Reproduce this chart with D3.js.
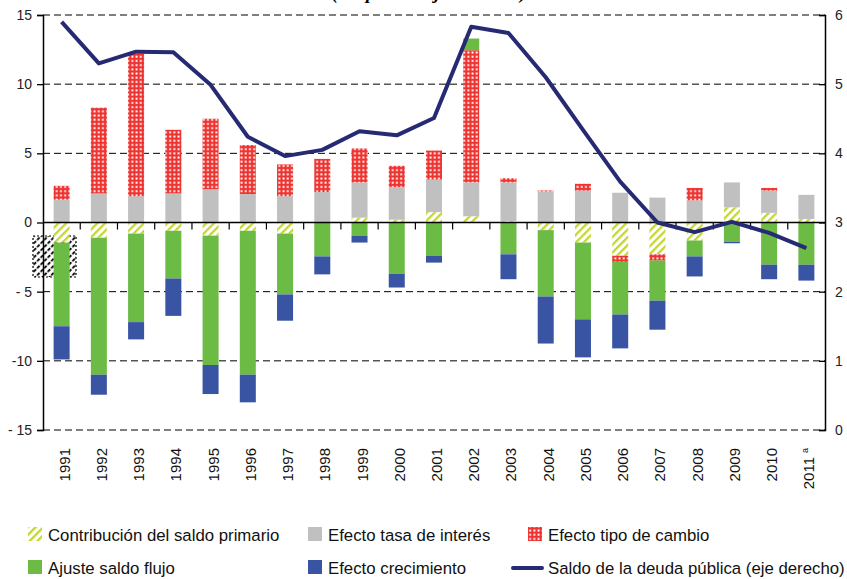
<!DOCTYPE html>
<html>
<head>
<meta charset="utf-8">
<script src="https://cdn.jsdelivr.net/npm/d3@7"></script>
<style>
  body { margin: 0; background: #fff; }
  svg { display: block; font-family: "Liberation Sans", Arial, sans-serif; }
</style>
</head>
<body>
<svg id="chart" width="847" height="579"></svg>
<script>
var width = 847;
var height = 579;

// ---------------------------------------------------------------------------
// data
// ---------------------------------------------------------------------------
var years = ["1991","1992","1993","1994","1995","1996","1997","1998","1999","2000",
             "2001","2002","2003","2004","2005","2006","2007","2008","2009","2010","2011"];

var primario    = [-1.45,-1.1,-0.8,-0.6,-0.95,-0.6,-0.8,0,0.35,0.2,0.75,0.45,0.1,-0.55,-1.45,-2.4,-2.3,-1.3,1.1,0.7,0.25];
var interes     = [1.65,2.1,1.9,2.1,2.4,2.05,1.9,2.2,2.55,2.35,2.35,2.45,2.8,2.25,2.3,2.15,1.8,1.6,1.8,1.6,1.75];
var cambio      = [1.0,6.2,10.3,4.6,5.1,3.55,2.3,2.4,2.45,1.55,2.1,9.55,0.3,0.07,0.5,-0.45,-0.45,0.9,0,0.2,0];
var flujo       = [-6.05,-9.9,-6.4,-3.45,-9.35,-10.4,-4.4,-2.45,-0.95,-3.7,-2.4,0.85,-2.3,-4.8,-5.55,-3.8,-2.9,-1.15,-1.4,-3.05,-3.05];
var crecimiento = [-2.4,-1.45,-1.25,-2.7,-2.1,-2.0,-1.9,-1.3,-0.5,-1.0,-0.5,0,-1.8,-3.4,-2.75,-2.45,-2.1,-1.45,-0.1,-1.05,-1.15];
var deuda       = [5.90,5.30,5.47,5.46,4.99,4.24,3.96,4.05,4.32,4.26,4.51,5.83,5.74,5.10,4.34,3.59,3.0,2.86,3.01,2.85,2.63];

var leftTicks  = [15,10,5,0,-5,-10,-15];
var rightTicks = [0,1,2,3,4,5,6];

var series = [
    {key: "primario",    label: "Contribución del saldo primario", values: primario,    fill: "url(#hatch)"},
    {key: "interes",     label: "Efecto tasa de interés",          values: interes,     fill: "#c0c0c0"},
    {key: "cambio",      label: "Efecto tipo de cambio",           values: cambio,      fill: "url(#dots)"},
    {key: "flujo",       label: "Ajuste saldo flujo",              values: flujo,       fill: "#6cbb45"},
    {key: "crecimiento", label: "Efecto crecimiento",              values: crecimiento, fill: "#3a54a4"}
];

// ---------------------------------------------------------------------------
// scales
// ---------------------------------------------------------------------------
var plotLeft = 43, plotRight = 825, plotTop = 15, plotBottom = 430;

var x = d3.scaleBand()
    .domain(years)
    .range([plotLeft, plotRight])
    .paddingInner(0.57)
    .paddingOuter(0.285);

var y = d3.scaleLinear().domain([-15, 15]).range([plotBottom, plotTop]);
var y2 = d3.scaleLinear().domain([0, 6]).range([plotBottom, plotTop]);

var svg = d3.select("#chart");

// patterns
var defs = svg.append("defs");
var hatch = defs.append("pattern")
    .attr("id", "hatch")
    .attr("patternUnits", "userSpaceOnUse")
    .attr("width", 5.5).attr("height", 5.5)
    .attr("patternTransform", "rotate(45)");
hatch.append("rect").attr("width", 5.5).attr("height", 5.5).attr("fill", "#fff");
hatch.append("rect").attr("width", 2.3).attr("height", 5.5).attr("fill", "#c5d630");

var dots = defs.append("pattern")
    .attr("id", "dots")
    .attr("patternUnits", "userSpaceOnUse")
    .attr("width", 4.2).attr("height", 4.2);
dots.append("rect").attr("width", 4.2).attr("height", 4.2).attr("fill", "#ee3431");
dots.append("rect").attr("x", 1.2).attr("y", 1.2).attr("width", 1.9).attr("height", 1.9).attr("fill", "#fff");

var blackHatch = defs.append("pattern")
    .attr("id", "blackHatch")
    .attr("patternUnits", "userSpaceOnUse")
    .attr("width", 5).attr("height", 5)
    .attr("patternTransform", "rotate(45)");
blackHatch.append("rect").attr("width", 5).attr("height", 5).attr("fill", "#fff");
blackHatch.append("rect").attr("width", 1.8).attr("height", 3.5).attr("fill", "#000");

// title, clipped by the top of the picture
svg.append("text")
    .attr("x", 429).attr("y", -1.5)
    .attr("text-anchor", "middle")
    .style("font-family", "'Liberation Serif', 'Times New Roman', serif")
    .style("font-weight", "bold").style("font-style", "italic")
    .style("font-size", "19px")
    .text("(En porcentajes del PIB)");

// gridlines
svg.append("g").selectAll("line")
    .data(leftTicks.filter(function(d) { return d !== 0; }))
    .enter().append("line")
    .attr("x1", plotLeft).attr("x2", plotRight)
    .attr("y1", function(d) { return y(d); }).attr("y2", function(d) { return y(d); })
    .attr("stroke", "#000").attr("stroke-width", 1)
    .attr("stroke-dasharray", "7,4");

// stray hatched box near 1991
svg.append("rect")
    .attr("x", 33).attr("y", 236).attr("width", 43).attr("height", 41)
    .attr("fill", "url(#blackHatch)")
    .attr("stroke", "#000").attr("stroke-width", 1.2).attr("stroke-dasharray", "2,2");

// stacked bars
var rows = years.map(function(yr, i) {
    var r = {year: yr};
    series.forEach(function(s) { r[s.key] = s.values[i]; });
    return r;
});
var stack = d3.stack()
    .keys(series.map(function(s) { return s.key; }))
    .offset(d3.stackOffsetDiverging);
var stacked = stack(rows);

svg.append("g").selectAll("g")
    .data(stacked)
    .enter().append("g")
    .attr("fill", function(d, i) { return series[i].fill; })
    .selectAll("rect")
    .data(function(d) { return d; })
    .enter().append("rect")
    .attr("x", function(d) { return x(d.data.year); })
    .attr("width", x.bandwidth())
    .attr("y", function(d) { return y(Math.max(d[0], d[1])); })
    .attr("height", function(d) { return Math.abs(y(d[0]) - y(d[1])); });

// zero line and category ticks
svg.append("line")
    .attr("x1", plotLeft).attr("x2", plotRight)
    .attr("y1", y(0)).attr("y2", y(0))
    .attr("stroke", "#000").attr("stroke-width", 1.3);

svg.append("g").selectAll("line")
    .data(years.slice(0, -1))
    .enter().append("line")
    .attr("x1", function(d) { return x(d) + x.bandwidth() / 2 + x.step() / 2; })
    .attr("x2", function(d) { return x(d) + x.bandwidth() / 2 + x.step() / 2; })
    .attr("y1", y(0)).attr("y2", y(0) + 7)
    .attr("stroke", "#000").attr("stroke-width", 1.2);

// axes
var leftAxis = d3.axisLeft(y)
    .tickValues(leftTicks)
    .tickSize(6).tickPadding(5)
    .tickFormat(function(d) { return d < 0 ? (d === -10 ? "-10" : "- " + Math.abs(d)) : d; });
var gl = svg.append("g").attr("transform", "translate(" + plotLeft + ",0)").call(leftAxis);

var rightAxis = d3.axisRight(y2)
    .tickValues(rightTicks)
    .tickSize(-6).tickPadding(10)
    .tickFormat(d3.format("d"));
var gr = svg.append("g").attr("transform", "translate(" + plotRight + ",0)").call(rightAxis);

[gl, gr].forEach(function(g) {
    g.select(".domain").attr("stroke-width", 1.5);
    g.selectAll(".tick line").attr("stroke-width", 1.3);
    g.selectAll("text").style("font-size", "14px").attr("fill", "#222")
        .style("font-family", "'Liberation Sans', Arial, sans-serif");
});

// year labels
var yl = svg.append("g").selectAll("text")
    .data(years)
    .enter().append("text")
    .attr("transform", function(d) {
        return "translate(" + (x(d) + x.bandwidth() / 2 + 8) + ",448) rotate(-90)";
    })
    .attr("text-anchor", "end")
    .style("font-size", "15px")
    .attr("fill", "#111");
yl.append("tspan").text(function(d) { return d; });
yl.filter(function(d) { return d === "2011"; })
    .append("tspan").attr("dx", 4).attr("dy", -6).style("font-size", "9px").text("a");

// debt line (right axis)
var line = d3.line()
    .x(function(d, i) { return x(years[i]) + x.bandwidth() / 2; })
    .y(function(d) { return y2(d); });
svg.append("path")
    .datum(deuda)
    .attr("d", line)
    .attr("fill", "none")
    .attr("stroke", "#262a73")
    .attr("stroke-width", 4)
    .attr("stroke-linejoin", "round");

// legend
var legendItems = [
    {s: series[0], col: 0, row: 0},
    {s: series[1], col: 1, row: 0},
    {s: series[2], col: 2, row: 0},
    {s: series[3], col: 0, row: 1},
    {s: series[4], col: 1, row: 1},
    {s: {label: "Saldo de la deuda pública (eje derecho)", line: true}, col: 2, row: 1}
];
var colX = [28, 308, 528];
var rowY = [541, 574];

var lg = svg.append("g").selectAll("g")
    .data(legendItems)
    .enter().append("g")
    .attr("transform", function(d) { return "translate(" + colX[d.col] + "," + rowY[d.row] + ")"; });

lg.filter(function(d) { return !d.s.line; })
    .append("rect")
    .attr("x", 0).attr("y", -14).attr("width", 14).attr("height", 14)
    .attr("fill", function(d) { return d.s.fill; });

lg.filter(function(d) { return d.s.line; })
    .append("line")
    .attr("x1", -15).attr("x2", 14).attr("y1", -6).attr("y2", -6)
    .attr("stroke", "#262a73").attr("stroke-width", 4).attr("stroke-linecap", "round");

lg.append("text")
    .attr("x", 20).attr("y", 0)
    .style("font-size", "16.8px")
    .attr("fill", "#111")
    .text(function(d) { return d.s.label; });
</script>
</body>
</html>
